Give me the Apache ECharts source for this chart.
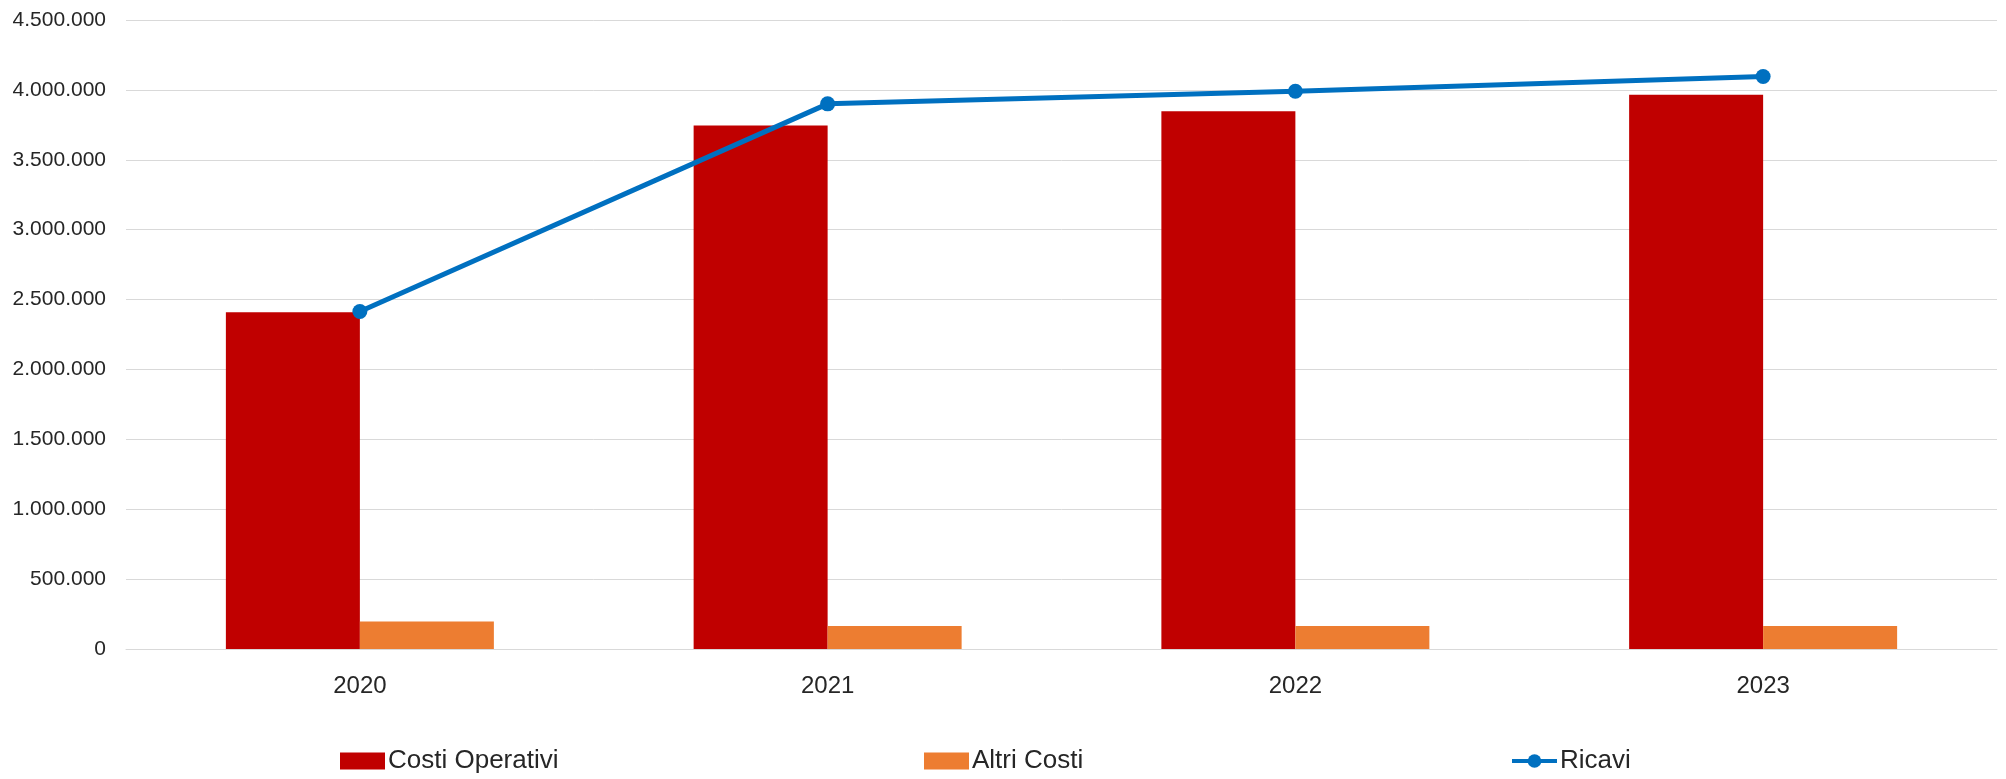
<!DOCTYPE html>
<html>
<head>
<meta charset="utf-8">
<script src="https://cdn.jsdelivr.net/npm/echarts@6/dist/echarts.min.js"></script>
<style>
html,body{margin:0;padding:0;background:#fff;}
#chart{width:2006px;height:779px;}
</style>
</head>
<body>
<div id="chart"></div>
<script>
const categories = ['2020', '2021', '2022', '2023'];
const costiOperativi = [2410000, 3745000, 3848000, 3965000];
const altriCosti = [197000, 165000, 165000, 165000];
const ricavi = [2415000, 3900000, 3990000, 4096000];

function fmt(v) {
  return String(Math.round(v)).replace(/\B(?=(\d{3})+(?!\d))/g, '.');
}

const FONT = 'Liberation Sans, Arial, sans-serif';
const legendText = {fontSize: 26, color: '#262626', fontFamily: FONT, padding: [0, 0, 0, -2]};
const chart = echarts.init(document.getElementById('chart'), null, {renderer: 'canvas'});
chart.setOption({
  animation: false,
  backgroundColor: '#ffffff',
  textStyle: {fontFamily: FONT},
  grid: {left: 126, right: 9, top: 20, bottom: 130, containLabel: false},
  legend: [
    {data: [{name: 'Costi Operativi', icon: 'rect'}], left: 340, top: 748, padding: 0, itemWidth: 45, itemHeight: 17,
     textStyle: legendText},
    {data: [{name: 'Altri Costi', icon: 'rect'}], left: 924, top: 748, padding: 0, itemWidth: 45, itemHeight: 17,
     textStyle: legendText},
    {data: ['Ricavi'], left: 1510, top: 748, padding: 0, itemWidth: 45, itemHeight: 17,
     lineStyle: {width: 4}, textStyle: legendText}
  ],
  xAxis: {
    type: 'category',
    data: categories,
    axisLine: {show: true, lineStyle: {color: '#d9d9d9', width: 1}},
    axisTick: {show: false},
    axisLabel: {fontSize: 24, color: '#262626', margin: 25, fontFamily: FONT}
  },
  yAxis: {
    type: 'value',
    min: 0,
    max: 4500000,
    interval: 500000,
    axisLine: {show: false},
    axisTick: {show: false},
    splitLine: {lineStyle: {color: '#d9d9d9', width: 1}},
    axisLabel: {fontSize: 21, color: '#262626', margin: 20, fontFamily: FONT, formatter: fmt}
  },
  series: [
    {
      name: 'Costi Operativi', type: 'bar', data: costiOperativi,
      barWidth: 134, barGap: '0%',
      itemStyle: {color: '#C00000'}
    },
    {
      name: 'Altri Costi', type: 'bar', data: altriCosti,
      barWidth: 134, barGap: '0%',
      itemStyle: {color: '#ED7D31'}
    },
    {
      name: 'Ricavi', type: 'line', data: ricavi, z: 5,
      symbol: 'circle', symbolSize: 15,
      lineStyle: {color: '#0070C0', width: 5},
      itemStyle: {color: '#0070C0'}
    }
  ]
});
</script>
</body>
</html>
